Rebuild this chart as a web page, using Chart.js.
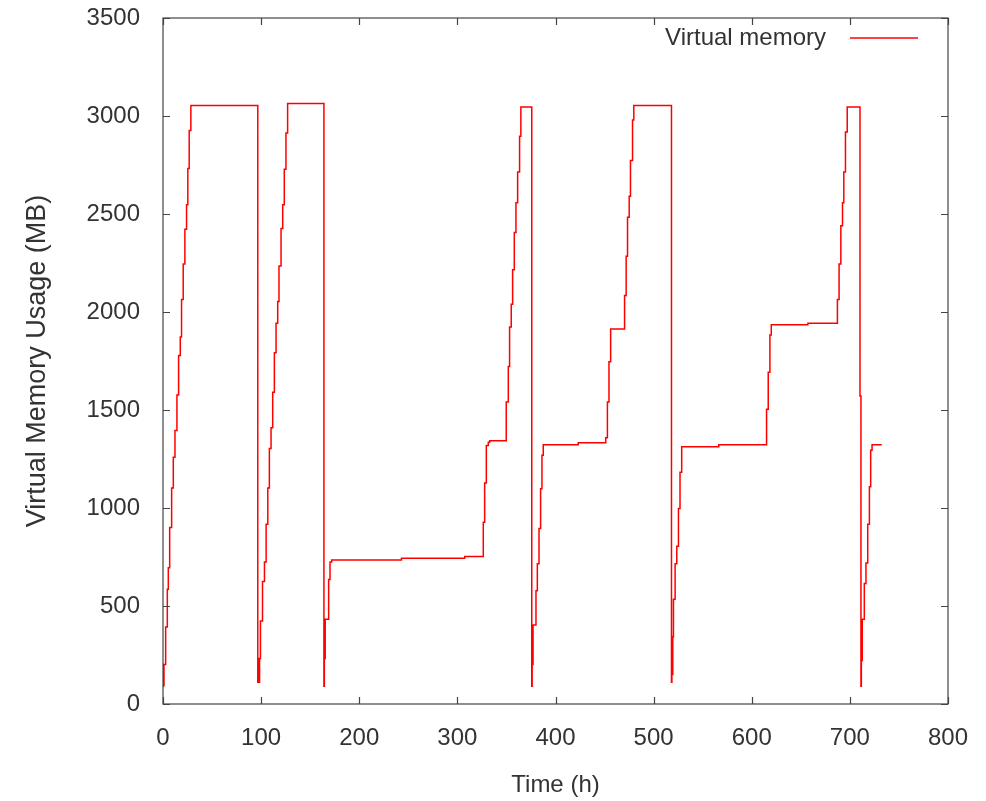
<!DOCTYPE html>
<html>
<head>
<meta charset="utf-8">
<title>Virtual memory usage</title>
<script src="https://cdn.jsdelivr.net/npm/chart.js@4.4.1/dist/chart.umd.min.js"></script>
<style>
  html, body { margin: 0; padding: 0; background: #fff; }
  #wrap { width: 986px; height: 801px; }
</style>
</head>
<body>
<div id="wrap"><canvas id="memChart" width="986" height="801"></canvas></div>
<script>
// time (h) at which the usage changes, and the new value (MB) from that time on
const hours = [
  0, 0.3, 0.6, 1.0, 2.7, 4.4, 5.4, 6.8, 8.8, 10.5, 12.2, 14.2, 15.9, 17.6, 18.9, 20.6, 22.3, 24.0, 25.3, 26.7, 28.4,
  96.6, 97.2, 97.8, 98.4, 99.3, 101.4, 103.4, 105.1, 106.8, 108.4, 110.1, 111.8, 113.5, 115.2, 116.9, 118.2, 120.3, 122.0, 123.6, 125.3, 127.0,
  164.0, 164.4, 164.8, 165.3, 168.8, 170.2, 171.9, 243.0, 307.5, 326.4, 327.8, 329.5, 331.5, 332.9, 349.8, 351.9, 353.2, 354.9, 356.3, 358.0, 359.7, 361.4, 363.4, 364.7,
  375.8, 376.2, 376.6, 377.1, 380.1, 381.5, 383.2, 384.8, 386.2, 387.5, 423.2, 451.2, 452.9, 454.5, 456.2, 470.4, 472.0, 473.4, 475.1, 476.4, 478.5, 479.8,
  518.2, 518.6, 519.0, 519.5, 520.2, 521.9, 523.6, 525.3, 526.9, 528.6, 566.4, 615.1, 616.8, 618.5, 619.9, 657.2, 687.3, 689.0, 690.8, 692.5, 693.8, 695.5, 697.3,
  710.3, 711.3, 711.7, 712.1, 712.6, 714.7, 716.4, 718.2, 719.9, 721.2, 722.6, 732.5
];
const memoryMB = [
  91, 202, 95, 202, 393, 585, 695, 900, 1102, 1259, 1396, 1577, 1778, 1873, 2064, 2245, 2422, 2547, 2732, 2926, 3054,
  111, 232, 111, 232, 423, 625, 725, 917, 1102, 1303, 1410, 1591, 1792, 1943, 2054, 2235, 2426, 2547, 2728, 2913, 3064,
  91, 433, 232, 433, 635, 725, 735, 743, 752, 927, 1128, 1319, 1335, 1343, 1541, 1722, 1923, 2040, 2215, 2406, 2557, 2714, 2897, 3046,
  91, 403, 202, 403, 578, 715, 896, 1098, 1269, 1323, 1333, 1359, 1541, 1746, 1913, 2084, 2285, 2483, 2591, 2773, 2980, 3054,
  111, 343, 150, 343, 534, 715, 805, 997, 1182, 1312, 1323, 1504, 1692, 1883, 1935, 1943, 2064, 2245, 2440, 2557, 2714, 2919, 3046,
  1571, 91, 433, 222, 433, 615, 719, 917, 1108, 1295, 1323, 1323
];
const xTicks = [0, 100, 200, 300, 400, 500, 600, 700, 800];
const yTicks = [0, 500, 1000, 1500, 2000, 2500, 3000, 3500];

const seriesLabel = "Virtual memory";
const lineColor = "#ff0000";
const textColor = "#333333";
const frameColor = "#444444";
const fontFamily = "'Liberation Sans', Arial, sans-serif";

// gnuplot style frame with inward (mirrored) tick marks, plus the key
const framePlugin = {
  id: "frame",
  afterDraw(chart) {
    const ctx = chart.ctx;
    const area = chart.chartArea;
    const xs = chart.scales.x;
    const ys = chart.scales.y;
    const tl = 7;
    ctx.save();
    ctx.strokeStyle = frameColor;
    ctx.lineWidth = 1.2;
    ctx.strokeRect(area.left, area.top, area.right - area.left, area.bottom - area.top);
    ctx.beginPath();
    xTicks.forEach((v) => {
      const px = Math.round(xs.getPixelForValue(v)) + 0.5;
      ctx.moveTo(px, area.bottom);
      ctx.lineTo(px, area.bottom - tl);
      ctx.moveTo(px, area.top);
      ctx.lineTo(px, area.top + tl);
    });
    yTicks.forEach((v) => {
      const py = Math.round(ys.getPixelForValue(v)) + 0.5;
      ctx.moveTo(area.left, py);
      ctx.lineTo(area.left + tl, py);
      ctx.moveTo(area.right, py);
      ctx.lineTo(area.right - tl, py);
    });
    ctx.stroke();

    // key, top right: text then line sample
    const keyY = area.top + 20;
    const lineEnd = area.right - 30;
    const lineStart = lineEnd - 68;
    ctx.font = "24px " + fontFamily;
    ctx.fillStyle = textColor;
    ctx.textAlign = "right";
    ctx.textBaseline = "middle";
    ctx.fillText(chart.data.datasets[0].label, lineStart - 24, keyY);
    ctx.strokeStyle = lineColor;
    ctx.lineWidth = 1.5;
    ctx.beginPath();
    ctx.moveTo(lineStart, keyY);
    ctx.lineTo(lineEnd, keyY);
    ctx.stroke();
    ctx.restore();
  },
};

const points = hours.map((h, i) => ({ x: h, y: memoryMB[i] }));

new Chart(document.getElementById("memChart").getContext("2d"), {
  type: "line",
  data: {
    datasets: [
      {
        label: seriesLabel,
        data: points,
        borderColor: lineColor,
        borderWidth: 1.5,
        pointRadius: 0,
        stepped: "before",
        fill: false,
      },
    ],
  },
  options: {
    responsive: false,
    animation: false,
    layout: { padding: { top: 18, right: 38, left: 0, bottom: 0 } },
    plugins: {
      legend: { display: false },
      tooltip: { enabled: false },
    },
    scales: {
      x: {
        type: "linear",
        min: 0,
        max: 800,
        afterFit(scale) {
          scale.height = 97;
          scale.paddingLeft = 0;
          scale.paddingRight = 0;
        },
        afterBuildTicks(scale) { scale.ticks = xTicks.map((v) => ({ value: v })); },
        grid: { display: false, drawTicks: false },
        border: { display: false },
        ticks: {
          color: textColor,
          padding: 20,
          maxRotation: 0,
          autoSkip: false,
          callback: (v) => String(v),
          font: { family: fontFamily, size: 24 },
        },
        title: {
          display: true,
          text: "Time (h)",
          color: textColor,
          padding: { top: 0, bottom: 1 },
          font: { family: fontFamily, size: 24 },
        },
      },
      y: {
        min: 0,
        max: 3500,
        afterFit(scale) {
          scale.width = 163;
          scale.paddingTop = 0;
          scale.paddingBottom = 0;
        },
        afterBuildTicks(scale) { scale.ticks = yTicks.map((v) => ({ value: v })); },
        grid: { display: false, drawTicks: false },
        border: { display: false },
        ticks: {
          color: textColor,
          padding: 23,
          autoSkip: false,
          callback: (v) => String(v),
          font: { family: fontFamily, size: 24 },
        },
        title: {
          display: true,
          text: "Virtual Memory Usage (MB)",
          color: textColor,
          padding: { top: 21, bottom: 0 },
          font: { family: fontFamily, size: 27 },
        },
      },
    },
  },
  plugins: [framePlugin],
});
</script>
</body>
</html>
